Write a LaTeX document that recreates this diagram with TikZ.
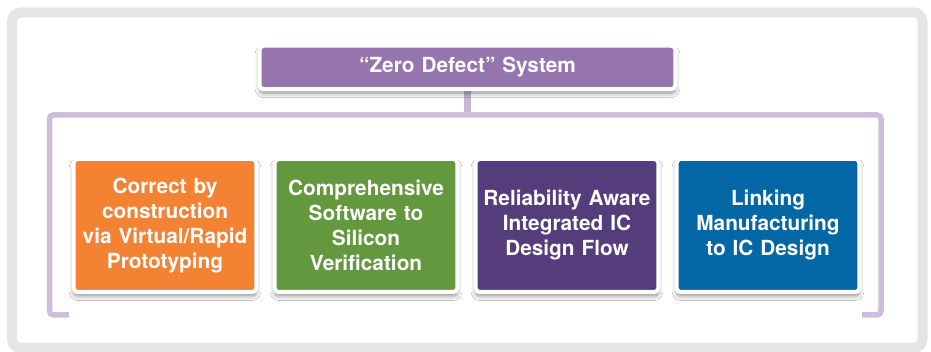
\documentclass[tikz,border=0pt]{standalone}
\usepackage{fontspec}
\setmainfont{TeX Gyre Heros}
\usetikzlibrary{positioning,shadows.blur,backgrounds}
\definecolor{topbox}{HTML}{9674AE}
\definecolor{orangebox}{HTML}{F38233}
\definecolor{greenbox}{HTML}{64983F}
\definecolor{purplebox}{HTML}{553D7B}
\definecolor{bluebox}{HTML}{0467A5}
\definecolor{bracket}{HTML}{CDBEDA}
\definecolor{stem}{HTML}{C6B5D6}
\definecolor{frame}{HTML}{E5E5E5}
\begin{document}
\begin{tikzpicture}[x=1pt,y=1pt,node distance=201pt,
    main node/.style={rectangle,draw=white,line width=4pt,rounded corners=4pt,minimum width=180pt,minimum height=133pt,text width=176pt,align=center,text=white,font=\fontsize{20.8}{25}\selectfont\bfseries,
      blur shadow={shadow xshift=0pt,shadow yshift=-4pt,shadow blur radius=4.5pt,shadow blur steps=10,shadow opacity=45}},
    bracket line/.style={draw=bracket,line width=5.5pt,rounded corners=4pt}]
    \useasboundingbox (0,0) rectangle (931,352);
    \draw[frame,line width=10pt,rounded corners=9pt] (12,4) rectangle (922.5,339.5);

    % bracket under the top box
    \coordinate (bl) at (69,37);
    \coordinate (tl) at (49.5,237);
    \coordinate (tr) at (881,237);
    \coordinate (br) at (862,37);
    \draw[bracket line] (bl) -| (tl) -- (tr) |- (br);

    \node [main node, fill=topbox, minimum width=413pt, minimum height=43.5pt, text width=409pt](1) at (467.5,284.5){“Zero Defect” System};
    \coordinate (top) at (1.south |- tl);

    \node [main node, fill=orangebox](2) at (165,126.5){Correct by\\construction\\via Virtual/Rapid\\Prototyping};
    \node [main node, fill=greenbox](3) [right of=2]{Comprehensive\\Software to\\Silicon\\Verification};
    \node [main node, fill=purplebox](4) [right of=3]{Reliability Aware\\Integrated IC\\Design Flow};
    \node [main node, fill=bluebox](5) [right of=4]{Linking\\Manufacturing\\to IC Design};

    % stem behind the top box shadow
    \begin{scope}[on background layer]
        \fill[white] (0,0) rectangle (931,352);
        \path[draw=stem,line width=7pt]
            (1.south) edge (top);
    \end{scope}
\end{tikzpicture}
\end{document}
